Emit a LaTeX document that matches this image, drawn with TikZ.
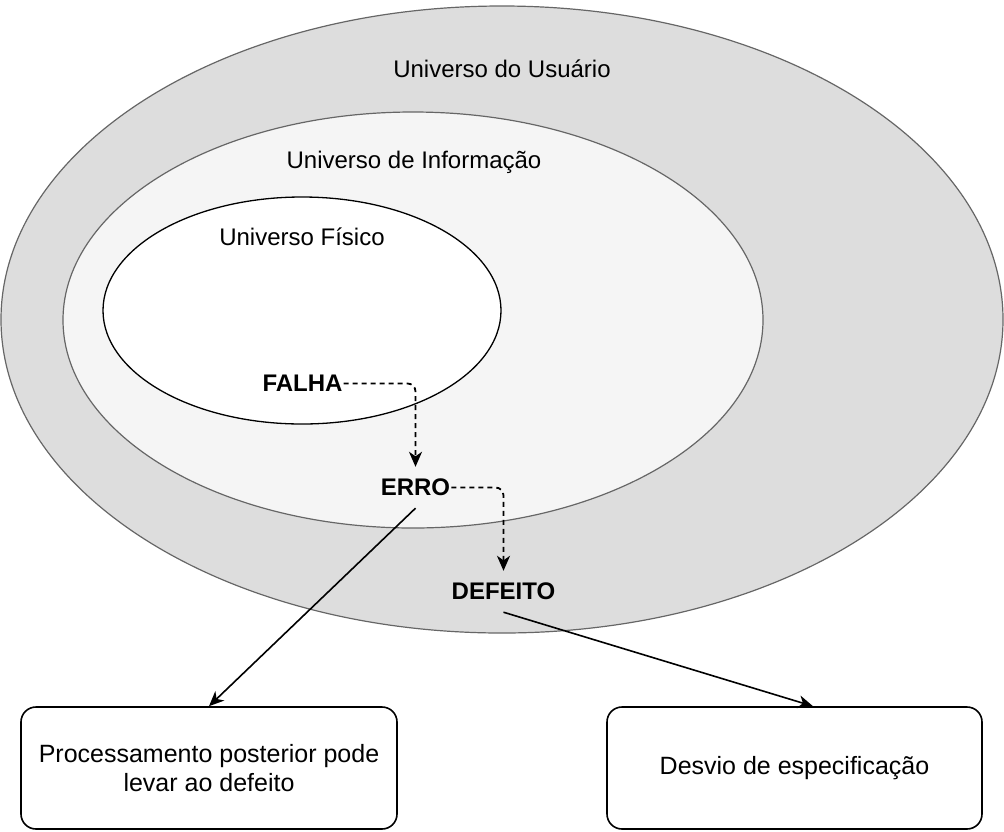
\documentclass[tikz,border=0pt]{standalone}
\usepackage{fontspec}
\setmainfont{Liberation Sans}
\usetikzlibrary{arrows.meta,calc}
\definecolor{outerfill}{HTML}{DDDDDD}
\definecolor{infofill}{HTML}{F5F5F5}
\definecolor{ringline}{HTML}{666666}
\begin{document}
\begin{tikzpicture}[x=1pt,y=-1pt,
  txt/.style={font=\fontsize{24}{28.8}\selectfont, inner sep=0pt, text=black},
  kw/.style={font=\fontsize{24}{28.8}\selectfont\bfseries, inner sep=1pt, minimum height=41pt, text=black},
  tip/.style={-{Stealth[length=15pt,width=13pt,inset=4.5pt]}},
  dasharrow/.style={tip, draw=black, line width=1.8pt, dash pattern=on 5pt off 4pt, rounded corners=8pt},
  solidarrow/.style={tip, draw=black, line width=1.6pt},
  outcome/.style={draw=black, line width=1.6pt, rounded corners=15pt, minimum height=122pt,
     align=center, font=\fontsize{25}{28.5}\selectfont, inner sep=0pt}
]
\useasboundingbox (0,0) rectangle (1004,831);

% universes
\draw[fill=outerfill, draw=ringline, line width=1.2pt] (502,319.5) ellipse [x radius=501pt, y radius=313.5pt];
\draw[fill=infofill, draw=ringline, line width=1.2pt] (413,320) ellipse [x radius=350pt, y radius=208pt];
\draw[fill=white, draw=black, line width=1.3pt] (302,310.5) ellipse [x radius=199pt, y radius=113.5pt];

\node[txt, anchor=base] (lblU) at (502,77) {Universo do Usuário};
\node[txt, anchor=base] (lblI) at (414,168) {Universo de Informação};
\node[txt, anchor=base] (lblF) at (302,245) {Universo Físico};

% key terms
\node[kw] (falha) at (302.5,383.5) {FALHA};
\node[kw] (erro) at (415.5,487.5) {ERRO};
\node[kw] (defeito) at (503.5,591.5) {DEFEITO};

% outcome boxes
\node[outcome, minimum width=376pt] (box1) at (209,768) {Processamento posterior pode\\levar ao defeito};
\node[outcome, minimum width=375pt] (box2) at (794.5,768) {Desvio de especificação};
\coordinate (b2in) at ($(box2.north)+(18.5,0)$);

% connectors
\draw[dasharrow] (falha.east) -| (erro.north);
\draw[dasharrow] (erro.east) -| (defeito.north);
\draw[solidarrow] (erro.south) -- (box1.north);
\draw[solidarrow] (defeito.south) -- (b2in);
\end{tikzpicture}
\end{document}
